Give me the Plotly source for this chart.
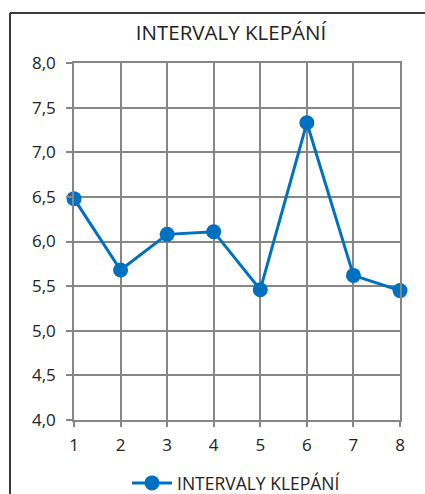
import plotly.graph_objects as go

x_vals = [1, 2, 3, 4, 5, 6, 7, 8]
y_vals = [6.48, 5.68, 6.08, 6.11, 5.46, 7.33, 5.62, 5.45]
series_name = "INTERVALY KLEPÁNÍ"
title_text = "INTERVALY KLEPÁNÍ"

W, H = 425, 494
L, R, T, B = 74, 25, 63, 74
pw, ph = W - L - R, H - T - B

def px(xp):
    return (xp - L) / pw

def py(yp):
    return (H - B - yp) / ph

blue = "#0070C0"
grid = "#868686"
font = "Open Sans"

fig = go.Figure()
fig.add_trace(go.Scatter(
    x=x_vals, y=y_vals, mode="lines+markers", name=series_name,
    line=dict(color=blue, width=3),
    marker=dict(color=blue, size=15),
    cliponaxis=False,
))

fig.update_layout(
    width=W, height=H,
    margin=dict(l=L, r=R, t=T, b=B, autoexpand=False),
    paper_bgcolor="white", plot_bgcolor="white",
    separators=", ",
    font=dict(family=font, color="#222222", size=16),
    title=dict(text=title_text, xref="container", x=231 / W, xanchor="center",
               yref="container", y=1 - 33 / H, yanchor="middle",
               font=dict(family=font, size=20.5, color="#222222")),
    showlegend=True,
    legend=dict(orientation="h", xref="container", x=236 / W, xanchor="center",
                yref="container", y=1 - 483 / H, yanchor="middle",
                font=dict(family=font, size=17.5, color="#222222"), itemwidth=40),
    xaxis=dict(range=[1, 8], tickvals=x_vals, showgrid=True, gridcolor=grid, gridwidth=1.5,
               showline=True, linecolor=grid, linewidth=1.5, mirror=True,
               ticks="outside", ticklen=5, tickcolor=grid, tickwidth=1.5,
               ticklabelstandoff=4, tickfont=dict(size=17),
               zeroline=False, fixedrange=True),
    yaxis=dict(range=[4, 8], dtick=0.5, tickformat=".1f", showgrid=True, gridcolor=grid, gridwidth=1.5,
               showline=True, linecolor=grid, linewidth=1.5, mirror=True,
               ticks="outside", ticklen=6, tickcolor=grid, tickwidth=1.5,
               ticklabelstandoff=7, tickfont=dict(size=17),
               zeroline=False, fixedrange=True),
    shapes=[
        dict(type="line", xref="paper", yref="paper", x0=px(10), x1=px(10), y0=py(13), y1=py(H + 5),
             line=dict(color="#3a3a3a", width=2)),
        dict(type="line", xref="paper", yref="paper", x0=px(10), x1=px(W + 5), y0=py(13), y1=py(13),
             line=dict(color="#3a3a3a", width=2)),
    ],
)

fig.write_html("out.html")
